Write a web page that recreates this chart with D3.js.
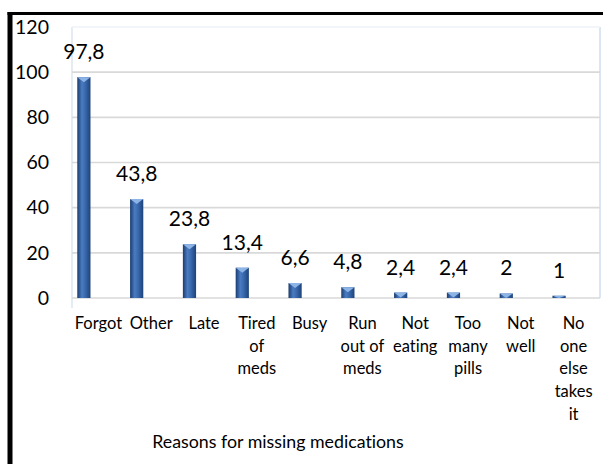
<!DOCTYPE html>
<html>
<head>
<meta charset="utf-8">
<script src="https://cdn.jsdelivr.net/npm/d3@7"></script>
<style>
  body { margin: 0; background: #fff; }
  text { font-family: Lato, "Open Sans", sans-serif; fill: #000; font-variant-ligatures: none; }
</style>
</head>
<body>
<div id="chart"></div>
<script>
// data
const categories = [
  ["Forgot"], ["Other"], ["Late"], ["Tired", "of", "meds"], ["Busy"],
  ["Run", "out of", "meds"], ["Not", "eating"], ["Too", "many", "pills"],
  ["Not", "well"], ["No", "one", "else", "takes", "it"]
];
const values = [97.8, 43.8, 23.8, 13.4, 6.6, 4.8, 2.4, 2.4, 2, 1];
const valueLabels = ["97,8", "43,8", "23,8", "13,4", "6,6", "4,8", "2,4", "2,4", "2", "1"];
const yTicks = [0, 20, 40, 60, 80, 100, 120];
const axisTitle = "Reasons for missing medications";

const width = 603, height = 464;
const plot = { left: 72, right: 600, top: 27, bottom: 298 };

const svg = d3.select("#chart").append("svg")
  .attr("width", width)
  .attr("height", height);

// gradient for the cylinder-like bars
const defs = svg.append("defs");
const grad = defs.append("linearGradient").attr("id", "barGrad")
  .attr("x1", "0%").attr("x2", "100%").attr("y1", "0%").attr("y2", "0%");
grad.append("stop").attr("offset", "0%").attr("stop-color", "#1b3c6e");
grad.append("stop").attr("offset", "35%").attr("stop-color", "#4a7cc2");
grad.append("stop").attr("offset", "60%").attr("stop-color", "#3a69ad");
grad.append("stop").attr("offset", "100%").attr("stop-color", "#1d4379");

const x = d3.scaleBand()
  .domain(d3.range(categories.length))
  .range([plot.left, plot.right]);

const y = d3.scaleLinear()
  .domain([0, 120])
  .range([plot.bottom, plot.top]);

// outer frame (left + top black edges)
svg.append("rect").attr("x", 7.5).attr("y", 12).attr("width", 5).attr("height", height - 12).attr("fill", "#000");
svg.append("rect").attr("x", 7.5).attr("y", 12).attr("width", width - 7.5).attr("height", 3).attr("fill", "#000");

// back wall borders
svg.append("line")
  .attr("x1", plot.left).attr("x2", plot.left)
  .attr("y1", plot.top).attr("y2", plot.bottom + 10)
  .attr("stroke", "#dde6f1").attr("stroke-width", 1.5);
svg.append("line")
  .attr("x1", plot.right).attr("x2", plot.right)
  .attr("y1", plot.top).attr("y2", plot.bottom)
  .attr("stroke", "#dce6f2").attr("stroke-width", 2);

// gridlines
svg.append("g")
  .selectAll("line")
  .data(yTicks)
  .join("line")
  .attr("x1", plot.left).attr("x2", plot.right)
  .attr("y1", d => y(d)).attr("y2", d => y(d))
  .attr("stroke", d => d === 120 ? "#eef2f8" : "#d9d9d9")
  .attr("stroke-width", 1.6);

// y axis labels
const yAxis = svg.append("g")
  .attr("transform", "translate(49,0)")
  .call(d3.axisLeft(y).tickValues(yTicks).tickSize(0).tickPadding(0));
yAxis.select(".domain").remove();
yAxis.selectAll("text")
  .style("font-family", "Lato, 'Open Sans', sans-serif")
  .style("font-size", "19.5px")
  .attr("fill", "#000");

// bars
const bw = x.bandwidth() * 0.25;
const shift = x.bandwidth() * 0.275;
const barX = i => x(i) + x.bandwidth() / 2 - shift;

const bars = svg.append("g").selectAll("g")
  .data(values)
  .join("g");

bars.append("rect")
  .attr("x", (d, i) => barX(i) - bw / 2)
  .attr("y", d => y(d))
  .attr("width", bw)
  .attr("height", d => plot.bottom - y(d))
  .attr("fill", "url(#barGrad)");

// light bevel triangle on top of each bar
bars.append("path")
  .attr("d", (d, i) => {
    const cx = barX(i), t = y(d);
    const h = Math.min(5, plot.bottom - t);
    return `M${cx - bw / 2},${t}L${cx + bw / 2},${t}L${cx},${t + h}Z`;
  })
  .attr("fill", "#8db4e6");

// value labels
svg.append("g").selectAll("text")
  .data(values)
  .join("text")
  .attr("x", (d, i) => barX(i))
  .attr("y", d => y(d) - 18)
  .attr("text-anchor", "middle")
  .style("font-size", "21px")
  .text((d, i) => valueLabels[i]);

// category labels (multi-line)
const cat = svg.append("g").selectAll("text")
  .data(categories)
  .join("text")
  .attr("text-anchor", "middle")
  .style("font-size", "16.5px");
cat.each(function (lines, i) {
  d3.select(this).selectAll("tspan")
    .data(lines)
    .join("tspan")
    .attr("x", x(i) + x.bandwidth() / 2)
    .attr("y", (l, j) => 329 + j * 22.7)
    .text(l => l);
});

// axis title
svg.append("text")
  .attr("x", 278)
  .attr("y", 448)
  .attr("text-anchor", "middle")
  .style("font-size", "17.8px")
  .text(axisTitle);
</script>
</body>
</html>
